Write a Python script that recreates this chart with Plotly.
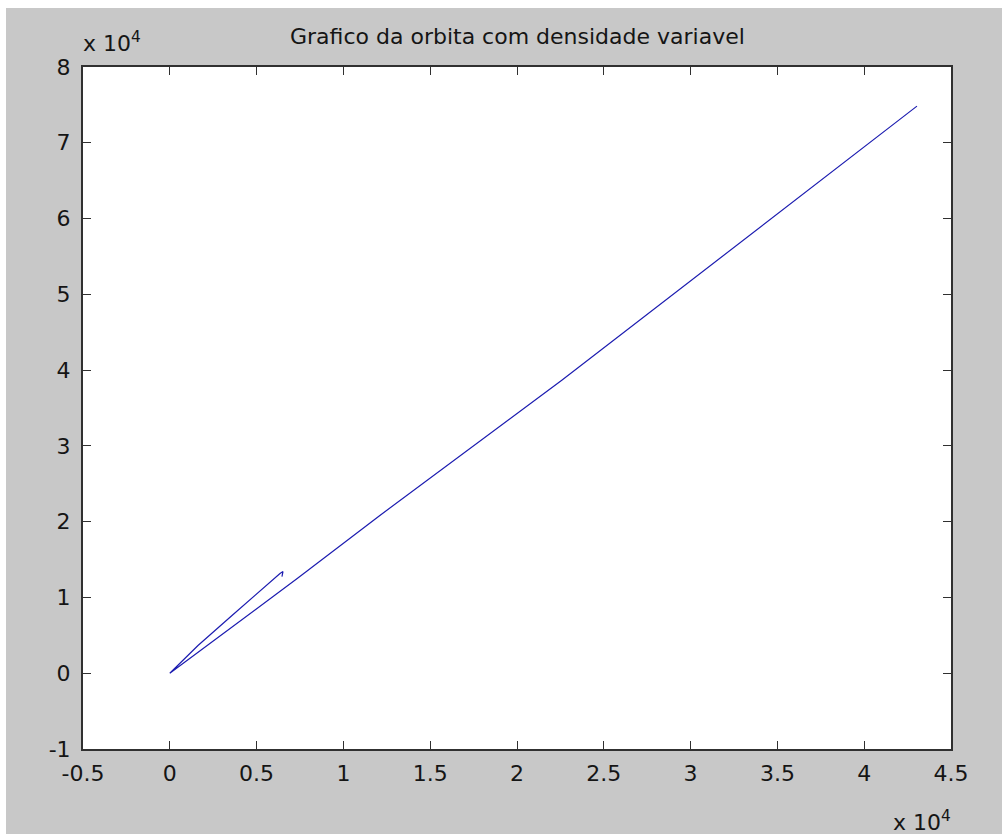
import plotly.graph_objects as go

# Orbit trajectory
orbit_x = [6460, 6520, 6348, 5081, 3583, 1624, 0, 7340, 12100, 22580, 33010, 43040]
orbit_y = [12760, 13420, 13160, 10650, 7610, 3650, 0, 12500, 20820, 38650, 57140, 74840]

x_tickvals = [-5000, 0, 5000, 10000, 15000, 20000, 25000, 30000, 35000, 40000, 45000]
x_ticktext = ["-0.5", "0", "0.5", "1", "1.5", "2", "2.5", "3", "3.5", "4", "4.5"]
y_tickvals = [-10000, 0, 10000, 20000, 30000, 40000, 50000, 60000, 70000, 80000]
y_ticktext = ["-1", "0", "1", "2", "3", "4", "5", "6", "7", "8"]

title_text = "Grafico da orbita com densidade variavel"
exp_text = "x 10<sup>4</sup>"

FONT = "DejaVu Sans, Arial, sans-serif"
TXT = "#151515"
W, H = 1002, 834
L, R, T, B = 83, 51, 67, 85
pw, ph = W - L - R, H - T - B

def px_x(p):
    return (p - L) / pw

def px_y(p):
    return (H - B - p) / ph

fig = go.Figure()
fig.add_trace(go.Scatter(x=orbit_x, y=orbit_y, mode="lines",
                         line=dict(color="#1c1cb0", width=1.2),
                         hoverinfo="skip", showlegend=False))

axis_common = dict(showgrid=False, zeroline=False, showline=True,
                   linecolor="#303030", linewidth=2, mirror="allticks",
                   ticks="inside", ticklen=8, tickwidth=1, tickcolor="#303030",
                   tickfont=dict(family=FONT, size=22, color=TXT))

fig.update_xaxes(range=[-5000, 45000], tickmode="array",
                 tickvals=x_tickvals, ticktext=x_ticktext,
                 ticklabelstandoff=4, **axis_common)
fig.update_yaxes(range=[-10000, 80000], tickmode="array",
                 tickvals=y_tickvals, ticktext=y_ticktext,
                 ticklabelstandoff=6, **axis_common)

ann = [
    dict(text=title_text, x=0.5, y=px_y(36), xref="paper", yref="paper",
         xanchor="center", yanchor="middle", showarrow=False,
         font=dict(family=FONT, size=22, color=TXT)),
    dict(text=exp_text, x=px_x(81), y=px_y(58), xref="paper", yref="paper",
         xanchor="left", yanchor="bottom", showarrow=False,
         font=dict(family=FONT, size=22, color=TXT)),
    dict(text=exp_text, x=px_x(953), y=px_y(837), xref="paper", yref="paper",
         xanchor="right", yanchor="bottom", showarrow=False,
         font=dict(family=FONT, size=22, color=TXT)),
]

shapes = [
    dict(type="rect", xref="paper", yref="paper", x0=px_x(0), x1=px_x(W),
         y0=px_y(8), y1=px_y(0), fillcolor="white", line=dict(width=0), layer="below"),
    dict(type="rect", xref="paper", yref="paper", x0=px_x(0), x1=px_x(6),
         y0=px_y(H), y1=px_y(0), fillcolor="white", line=dict(width=0), layer="below"),
]

fig.update_layout(width=W, height=H, margin=dict(l=L, r=R, t=T, b=B),
                  paper_bgcolor="#c8c8c8", plot_bgcolor="white",
                  annotations=ann, shapes=shapes, showlegend=False)

fig.write_html("out.html")
